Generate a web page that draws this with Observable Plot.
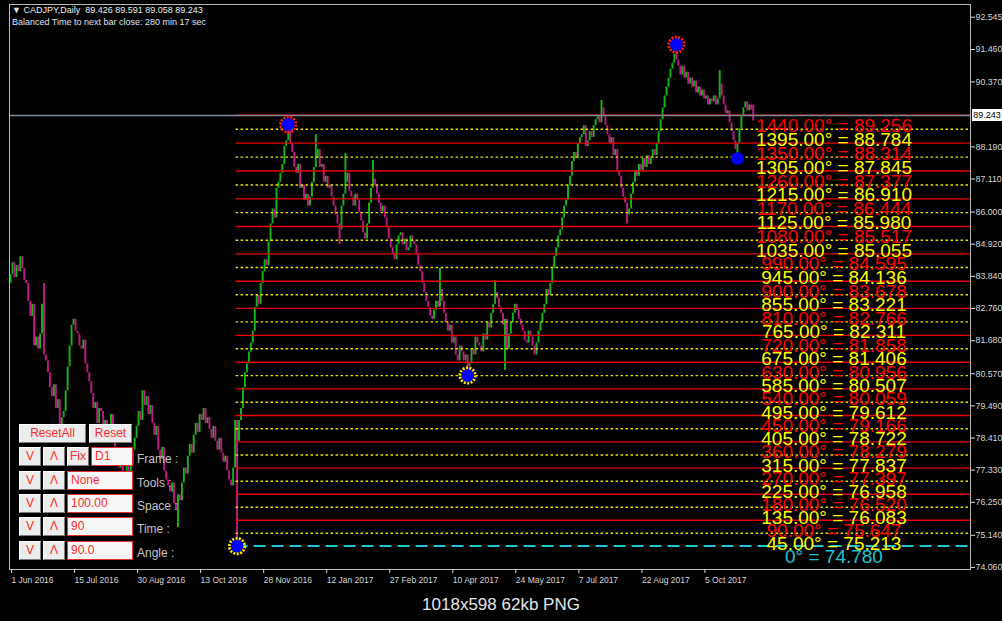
<!DOCTYPE html>
<html>
<head>
<meta charset="utf-8">
<script src="https://cdn.jsdelivr.net/npm/d3@7"></script>
<script src="https://cdn.jsdelivr.net/npm/@observablehq/plot@0.6"></script>
<style>
html,body{margin:0;padding:0;background:#000;}
#wrap{position:relative;width:1002px;height:621px;background:#000;overflow:hidden;font-family:"Liberation Sans",Arial,sans-serif;}
#chart{position:absolute;left:0;top:0;}
.hdr{position:absolute;left:12px;font-size:9px;white-space:nowrap;line-height:11px;}
.btn,.edit{position:absolute;box-sizing:border-box;height:19px;font-size:12px;line-height:17px;color:#ff2b2b;white-space:nowrap;overflow:hidden;}
.btn{background:#ececec;border:1px solid;border-color:#ffffff #7a7a7a #7a7a7a #ffffff;text-align:center;}
.edit{background:#f7f7f7;border:1px solid #e23030;text-align:left;padding-left:3px;}
.lbl{position:absolute;font-size:12px;color:#c4c4c4;white-space:nowrap;line-height:14px;}
#bidbox{position:absolute;left:972px;width:30px;height:12px;background:#fff;color:#000;font-size:9px;line-height:12px;text-align:center;}
#caption{position:absolute;left:0;top:592px;width:1002px;height:29px;text-align:center;color:#e6e6e6;font-size:17px;line-height:26px;}
</style>
</head>
<body>
<div id="wrap">
  <div id="chart"></div>
  <div class="hdr" style="top:5px;color:#ececec">▼ CADJPY,Daily&nbsp; 89.426 89.591 89.058 89.243</div>
  <div class="hdr" style="top:17px;color:#dce6ff">Balanced Time to next bar close: 280 min 17 sec</div>
  <div id="panel"></div>
  <div id="bidbox"></div>
  <div id="caption">1018x598 62kb PNG</div>
</div>
<script>
// ---- data ----
const firstOpen = 83.6;
const closes = [
 83.9, 84.3, 83.8, 84.2, 84.0, 84.5, 84.1, 83.7, 83.6, 83.0,
 82.5, 82.9, 81.5, 81.8, 81.4, 81.9, 82.9, 81.2, 81.0, 80.6,
 80.1, 79.8, 80.2, 79.4, 79.7, 78.8, 79.1, 79.3, 80.0, 80.8,
 81.5, 82.2, 82.4, 82.0, 81.9, 81.5, 81.4, 81.7, 80.9, 80.6,
 80.3, 79.9, 79.4, 79.6, 78.9, 79.4, 79.3, 78.7, 79.0, 78.6,
 78.4, 79.2, 78.8, 78.1, 77.8, 77.4, 77.9, 77.2, 77.0, 77.6,
 77.1, 77.5, 78.0, 78.4, 78.8, 79.3, 79.0, 80.0, 79.5, 79.8,
 79.2, 79.5, 78.9, 78.5, 78.8, 78.0, 77.7, 78.1, 77.3, 77.0,
 76.8, 76.6, 76.9, 76.2, 76.0, 76.5, 76.3, 76.9, 77.4, 77.2,
 77.8, 78.2, 77.9, 78.5, 78.9, 78.6, 79.2, 79.0, 79.4, 78.9,
 79.1, 78.7, 78.4, 78.8, 78.3, 78.0, 78.4, 77.9, 77.6, 77.8,
 77.3, 77.0, 76.8, 77.4, 79.0, 78.3, 79.0, 79.4, 80.1, 80.6,
 80.9, 81.3, 81.6, 82.0, 82.8, 83.2, 82.9, 83.6, 84.0, 84.4,
 84.2, 85.0, 85.6, 86.1, 85.8, 86.8, 87.0, 87.3, 87.6, 88.2,
 88.4, 88.7, 88.3, 88.0, 87.5, 87.3, 87.6, 86.8, 86.9, 86.4,
 86.6, 86.2, 86.5, 87.0, 87.5, 87.8, 88.1, 87.5, 87.6, 87.0,
 87.2, 86.8, 86.9, 86.5, 86.2, 85.9, 85.6, 85.4, 86.2, 86.6,
 87.0, 87.3, 86.7, 86.5, 86.2, 86.6, 86.4, 86.0, 85.7, 85.3,
 85.1, 85.6, 86.3, 86.8, 87.1, 86.9, 86.6, 86.3, 86.0, 86.2,
 85.8, 85.5, 85.1, 84.8, 84.6, 84.4, 84.9, 85.2, 85.3, 84.9,
 85.1, 84.7, 84.8, 85.2, 85.0, 84.9, 84.6, 84.2, 84.0, 83.6,
 83.3, 83.0, 82.8, 82.5, 82.4, 82.7, 83.0, 82.8, 83.4, 83.0,
 82.6, 82.3, 82.0, 82.2, 81.6, 81.8, 81.2, 81.0, 81.5, 81.3,
 81.0, 81.2, 80.8, 80.9, 81.4, 81.2, 81.8, 81.6, 81.5, 81.3,
 81.9, 81.7, 82.3, 82.1, 82.6, 82.9, 83.3, 83.1, 82.8, 82.6,
 82.2, 82.4, 81.4, 81.9, 82.3, 82.6, 82.9, 82.7, 82.4, 82.2,
 82.0, 81.7, 81.6, 82.0, 81.8, 81.5, 81.2, 81.6, 82.0, 82.3,
 82.6, 82.9, 83.4, 83.2, 83.6, 84.1, 84.5, 84.8, 85.2, 85.4,
 85.8, 86.2, 86.4, 86.9, 87.2, 87.7, 88.0, 87.8, 88.3, 88.5,
 88.6, 88.9, 88.2, 88.4, 88.7, 88.5, 88.9, 89.1, 89.2, 89.0,
 89.5, 89.2, 88.9, 88.6, 88.3, 88.5, 87.9, 88.1, 87.4, 87.2,
 86.8, 86.5, 86.3, 85.9, 86.1, 86.6, 87.0, 87.4, 87.2, 87.6,
 87.4, 87.8, 87.5, 87.9, 87.6, 87.8, 88.1, 87.9, 88.3, 88.7,
 89.1, 89.5, 89.9, 90.2, 90.5, 90.8, 91.0, 91.3, 91.1, 90.9,
 90.6, 90.9, 90.5, 90.7, 90.3, 90.5, 90.2, 90.4, 90.0, 90.2,
 89.9, 90.1, 89.8, 89.9, 89.6, 89.8, 89.7, 89.9, 89.6, 89.8,
 90.3, 89.9, 89.6, 89.3, 89.4, 89.0, 88.7, 88.4, 88.1, 88.3,
 88.8, 89.2, 89.5, 89.7, 89.4, 89.6, 89.426, 89.243
];
const spikeIdx  = [17,   85,   115,   141,   155,  167,  170,   184,   218,  232,   246,  251,   300,   313,  338,   360,   369,  377];
const spikeHigh = [83.6, null, null,  88.94, 88.6, null, 87.97, 87.73, 84.1, null,  83.7, null,  89.75, null, 91.62, 90.75, null, 89.591];
const spikeLow  = [null, 75.4, 74.78, null,  null, 84.9, null,  null,  null, 80.51, null, 80.68, null,  85.6, null,  null,  87.8, 89.058];

const pivotIdx   = [115, 141, 232, 338, 369];
const pivotPrice = [74.78, 88.94, 80.51, 91.62, 87.80];
const pivotHalo  = ["yellow", "red", "yellow", "red", "none"];

const levelDeg = [1440,1395,1350,1305,1260,1215,1170,1125,1080,1035,990,945,900,855,810,765,720,675,630,585,540,495,450,405,360,315,270,225,180,135,90,45,0];
const levelPrice = [89.256,88.784,88.314,87.845,87.377,86.910,86.444,85.980,85.517,85.055,84.595,84.136,83.678,83.221,82.766,82.311,81.858,81.406,80.956,80.507,80.059,79.612,79.166,78.722,78.279,77.837,77.397,76.958,76.520,76.083,75.647,75.213,74.780];

const bidPrice = 89.243;
const yTicks = [92.545, 91.460, 90.370, 88.190, 87.110, 86.000, 84.920, 83.840, 82.760, 81.680, 80.570, 79.490, 78.410, 77.330, 76.250, 75.140, 74.060];
const xTickIdx = [0, 32, 64, 96, 128, 160, 192, 224, 256, 288, 320, 352];
const xTickLabels = ["1 Jun 2016","15 Jul 2016","30 Aug 2016","13 Oct 2016","28 Nov 2016","12 Jan 2017","27 Feb 2017","10 Apr 2017","24 May 2017","7 Jul 2017","22 Aug 2017","5 Oct 2017"];

const gannStartBar = 114.5;
const labelBar = 418;

// ---- build tables ----
const bars = closes.map((c, i) => {
  const o = i === 0 ? firstOpen : closes[i - 1];
  let hi = Math.max(o, c), lo = Math.min(o, c);
  const k = spikeIdx.indexOf(i);
  if (k >= 0) {
    if (spikeHigh[k] != null) hi = spikeHigh[k];
    if (spikeLow[k] != null) lo = spikeLow[k];
  }
  return {i, o, c, hi, lo, up: c >= o};
});
const pivots = pivotIdx.map((i, k) => ({i, p: pivotPrice[k], halo: pivotHalo[k]}));
const levels = levelDeg.map((d, k) => {
  const p = levelPrice[k];
  return {deg: d, price: p,
    label: d === 0 ? `0° = ${p.toFixed(3)}` : `${d.toFixed(2)}° = ${p.toFixed(3)}`,
    kind: d === 0 ? "zero" : (d % 90 === 0 ? "red" : "yellow")};
});
const xMax = 487.3;

const upColor = "#14b814", downColor = "#c3188a";
const redC = "#e80000", yelC = "#e6e600", cyanC = "#22c4d2";
const font = "Liberation Sans, Arial, sans-serif";

const chart = Plot.plot({
  width: 1002, height: 592,
  marginLeft: 9, marginRight: 32, marginTop: 4, marginBottom: 23,
  style: {background: "#000", color: "#d6d6d6", fontFamily: font, overflow: "visible"},
  x: {domain: [-0.508, xMax], axis: null},
  y: {domain: [73.993, 92.972], axis: null},
  marks: [
    Plot.ruleX(bars.filter(d => d.up), {x: "i", y1: "lo", y2: "hi", stroke: upColor, strokeWidth: 1.9}),
    Plot.ruleX(bars.filter(d => !d.up), {x: "i", y1: "lo", y2: "hi", stroke: downColor, strokeWidth: 1.9}),
    Plot.ruleY(levels.filter(d => d.kind === "red"), {y: "price", x1: gannStartBar, x2: xMax, stroke: redC, strokeWidth: 1.4}),
    Plot.ruleY(levels.filter(d => d.kind === "yellow"), {y: "price", x1: gannStartBar, x2: xMax, stroke: yelC, strokeWidth: 1.4, strokeDasharray: "2.5,2.5"}),
    Plot.ruleY(levels.filter(d => d.kind === "zero"), {y: "price", x1: gannStartBar, x2: xMax, stroke: cyanC, strokeWidth: 2, strokeDasharray: "12,6"}),
    Plot.ruleY([bidPrice], {y: d => d, stroke: "#7d8b99", strokeWidth: 1.5}),
    Plot.dot(pivots.filter(d => d.halo === "red"), {x: "i", y: "p", r: 7.6, fill: "none", stroke: "#ff1a1a", strokeWidth: 3, strokeDasharray: "2,1.4"}),
    Plot.dot(pivots.filter(d => d.halo === "yellow"), {x: "i", y: "p", r: 7.6, fill: "none", stroke: "#ffe600", strokeWidth: 3, strokeDasharray: "2,1.4"}),
    Plot.dot(pivots, {x: "i", y: "p", r: 6.3, fill: "#0000ff", stroke: "none"}),
    Plot.text(levels.filter(d => d.kind === "red"), {x: labelBar, y: "price", text: "label", fill: "#ff0000", fontSize: 19, lineAnchor: "top", dy: 3, textAnchor: "middle", fontFamily: font}),
    Plot.text(levels.filter(d => d.kind === "yellow"), {x: labelBar, y: "price", text: "label", fill: "#ffff00", fontSize: 19, lineAnchor: "top", dy: 3, textAnchor: "middle", fontFamily: font}),
    Plot.text(levels.filter(d => d.kind === "zero"), {x: labelBar, y: "price", text: "label", fill: cyanC, fontSize: 19, lineAnchor: "top", dy: 3, textAnchor: "middle", fontFamily: font}),
    Plot.frame({stroke: "#b8b8b8"}),
    Plot.axisY(yTicks, {anchor: "right", tickSize: 4, tickPadding: 1, tickFormat: d => d.toFixed(3), fontSize: 8.8, color: "#d6d6d6", label: null}),
    Plot.axisX(xTickIdx, {anchor: "bottom", tickSize: 4, tickPadding: 3, textAnchor: "start", dx: 1, tickFormat: d => xTickLabels[xTickIdx.indexOf(d)], fontSize: 8.5, color: "#d6d6d6", label: null})
  ]
});
document.getElementById("chart").appendChild(chart);

// bid price box on the price scale
const yS = chart.scale("y");
const bb = document.getElementById("bidbox");
bb.textContent = bidPrice.toFixed(3);
bb.style.top = (yS.apply(bidPrice) - 6) + "px";

// control panel (UI overlay)
const panel = document.getElementById("panel");
function add(cls, x, y, w, txt) {
  const d = document.createElement("div");
  d.className = cls; d.style.left = x + "px"; d.style.top = y + "px";
  if (w) d.style.width = w + "px";
  d.textContent = txt; panel.appendChild(d);
}
add("btn", 19, 424, 67, "ResetAll");
add("btn", 89, 424, 43, "Reset");
const rowTops = [447, 471, 494, 517, 541];
const rowVals = ["D1", "None", "100.00", "90", "90.0"];
const rowNames = ["Frame :", "Tools :", "Space :", "Time :", "Angle :"];
rowTops.forEach((t, k) => {
  add("btn", 19, t, 22, "V");
  add("btn", 43, t, 22, "Λ");
  if (k === 0) { add("btn", 67, t, 22, "Fix"); add("edit", 91, t, 42, rowVals[k]); }
  else add("edit", 67, t, 66, rowVals[k]);
  add("lbl", 137, t + 5, 0, rowNames[k]);
});
</script>
</body>
</html>
